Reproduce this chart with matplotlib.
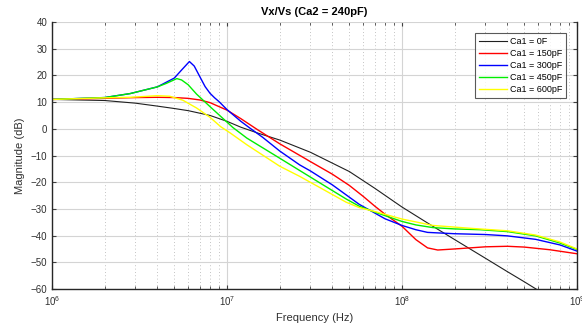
import matplotlib.pyplot as plt
from matplotlib.ticker import LogLocator, NullFormatter, FixedLocator
import numpy as np

plt.rcParams['font.family'] = ['Liberation Sans', 'DejaVu Sans']

# values (frequency in Hz, magnitude in dB)
f_black = [1e6, 2e6, 3e6, 4e6, 5e6, 6e6, 8e6, 1e7, 1.2e7, 1.5e7, 2e7, 3e7, 5e7, 7e7,
           1e8, 1.5e8, 2e8, 3e8, 4e8, 5e8, 6e8, 7e8]
db_black = [11.0, 10.6, 9.6, 8.5, 7.6, 6.8, 5.0, 2.8, 0.6, -1.6, -4.2, -8.8, -16.0, -22.3,
            -29.3, -36.5, -41.5, -48.5, -53.5, -57.3, -60.5, -63.0]

f_red = [1e6, 2e6, 3e6, 4e6, 5e6, 6e6, 7e6, 8e6, 1e7, 1.2e7, 1.5e7, 2e7, 3e7, 4e7, 5e7,
         6e7, 7e7, 8e7, 1e8, 1.2e8, 1.4e8, 1.6e8, 2e8, 3e8, 4e8, 5e8, 7e8, 1e9]
db_red = [11.0, 11.4, 11.7, 11.8, 11.7, 11.4, 10.8, 9.8, 7.0, 3.8, -0.4, -5.6, -12.3, -17.0, -21.2,
          -25.3, -29.0, -32.0, -36.5, -41.5, -44.6, -45.4, -45.0, -44.2, -44.0, -44.3, -45.3, -46.8]

f_blue = [1e6, 2e6, 2.8e6, 4e6, 5e6, 5.5e6, 6.1e6, 6.5e6, 7e6, 7.5e6, 8e6, 8.5e6, 9e6, 1e7,
          1.2e7, 1.35e7, 1.6e7, 2e7, 2.6e7, 3e7, 4e7, 5.7e7, 8e7, 1e8, 1.2e8, 1.4e8, 2e8, 3e8,
          4e8, 5.8e8, 8e8, 1e9]
db_blue = [11.0, 11.7, 13.2, 15.7, 19.0, 22.0, 25.2, 23.5, 19.5, 15.8, 13.3, 11.6, 10.2, 7.2,
           2.8, 0.3, -3.2, -8.3, -13.5, -15.8, -21.0, -28.3, -33.7, -36.2, -37.8, -38.8, -39.3, -39.6,
           -40.1, -41.4, -43.5, -45.8]

f_green = [1e6, 2e6, 2.8e6, 4e6, 4.5e6, 5.17e6, 5.5e6, 6e6, 6.7e6, 8e6, 1e7, 1.08e7, 1.3e7,
           2e7, 2.6e7, 3.5e7, 4.8e7, 5.7e7, 7.2e7, 1e8, 1.2e8, 1.5e8, 2e8, 2.8e8, 4e8, 5.8e8,
           8e8, 1e9]
db_green = [11.0, 11.7, 13.2, 15.7, 17.0, 18.8, 18.3, 16.5, 13.0, 8.3, 2.5, 0.5, -3.5,
            -11.0, -15.6, -20.8, -26.3, -29.0, -31.5, -34.7, -36.0, -37.0, -37.5, -37.8, -38.5, -40.1,
            -42.8, -45.2]

f_yellow = [1e6, 2e6, 2.8e6, 4e6, 4.7e6, 5.6e6, 6.7e6, 8e6, 9.2e6, 1.04e7, 1.3e7, 2e7, 2.6e7,
            3.5e7, 4.8e7, 5.7e7, 7.2e7, 1e8, 1.5e8, 2.5e8, 4e8, 5.8e8, 8e8, 1e9]
db_yellow = [11.0, 11.6, 11.8, 12.4, 12.2, 10.7, 7.8, 4.3, 0.8, -1.5, -6.0, -14.0, -17.8,
             -22.5, -27.5, -29.5, -31.2, -33.8, -36.2, -37.3, -38.2, -39.8, -42.4, -45.0]

labels = ["Ca1 = 0F", "Ca1 = 150pF", "Ca1 = 300pF", "Ca1 = 450pF", "Ca1 = 600pF"]

fig, ax = plt.subplots(figsize=(5.82, 3.36), dpi=100)
fig.subplots_adjust(left=0.0893, right=0.9914, bottom=0.1399, top=0.9345)

ax.plot(f_black, db_black, color="#202020", lw=0.8, label=labels[0])
ax.plot(f_red, db_red, color="#ff0000", lw=1.0, label=labels[1])
ax.plot(f_blue, db_blue, color="#0000ff", lw=1.0, label=labels[2])
ax.plot(f_green, db_green, color="#00ee00", lw=1.0, label=labels[3])
ax.plot(f_yellow, db_yellow, color="#ffff00", lw=1.0, label=labels[4])

ax.set_xscale("log")
ax.set_xlim(1e6, 1e9)
ax.set_ylim(-60, 40)
ax.set_yticks(np.arange(-60, 41, 10))
ax.xaxis.set_major_locator(FixedLocator([1e6, 1e7, 1e8, 1e9]))
ax.xaxis.set_minor_locator(LogLocator(base=10, subs=np.arange(2, 10)))
ax.xaxis.set_minor_formatter(NullFormatter())

ax.grid(True, which="major", color="#d4d4d4", lw=0.8, ls="-")
ax.grid(True, which="minor", axis="x", color="#b0b0b0", lw=0.6, ls=(0, (1, 3)))
ax.set_axisbelow(True)

ax.tick_params(which="both", direction="in", top=True, right=True, labelsize=7,
               colors="#404040", labelcolor="#303030")
ax.tick_params(which="major", length=3)
ax.tick_params(which="minor", length=2)
for side in ["left", "bottom", "right"]:
    ax.spines[side].set_color("#262626")
    ax.spines[side].set_linewidth(1.0)
ax.spines["top"].set_visible(False)

ax.set_title("Vx/Vs (Ca2 = 240pF)", fontsize=8, fontweight="bold", pad=5)
ax.set_xlabel("Frequency (Hz)", fontsize=8, color="#303030")
ax.set_ylabel("Magnitude (dB)", fontsize=8, color="#303030")

leg = ax.legend(loc="upper right", fontsize=6.5, frameon=True, fancybox=False,
                edgecolor="#303030", handlelength=3.2, handletextpad=0.3,
                borderpad=0.4, labelspacing=0.35, bbox_to_anchor=(0.988, 0.975))
leg.get_frame().set_linewidth(0.8)

fig.savefig("out.png", dpi=100)
